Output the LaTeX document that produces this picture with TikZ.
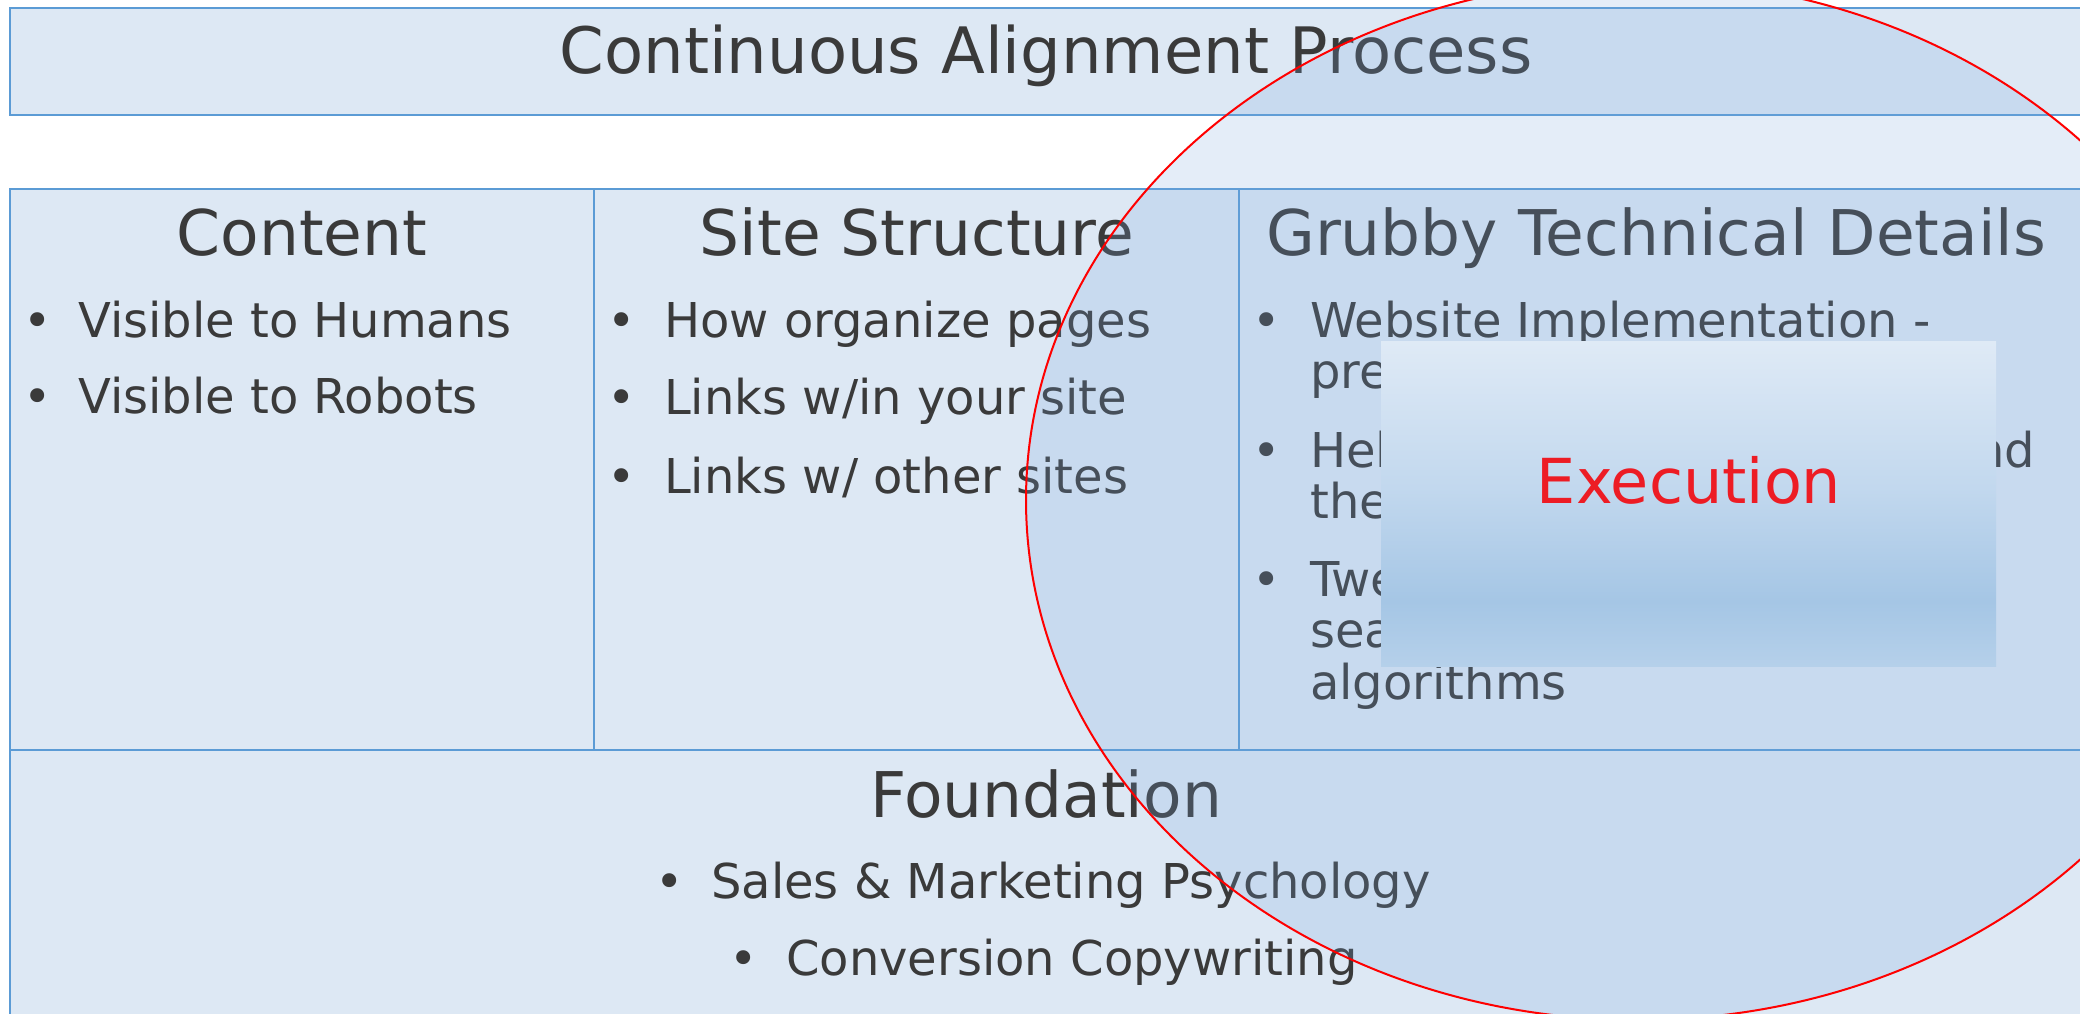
\documentclass[tikz,border=0pt]{standalone}
\usepackage{fontspec}
\setmainfont{DejaVu Sans}

\definecolor{cellfill}{HTML}{DDE8F4}
\definecolor{cellline}{HTML}{5B9BD5}
\definecolor{txt}{HTML}{3A3A3A}
\definecolor{lensfill}{RGB}{120,165,220}
\definecolor{exT}{HTML}{DFEAF6}
\definecolor{exM}{HTML}{C2D8EE}
\definecolor{exD}{HTML}{A5C6E5}
\definecolor{exB}{HTML}{B5D0EA}
\definecolor{exred}{HTML}{ED1C24}

% light-to-dark band used for the "Execution" panel (bottom = 25bp, top = 75bp)
\pgfdeclareverticalshading{execshade}{100bp}{color(0bp)=(exB); color(25bp)=(exB); color(35bp)=(exD); color(52.5bp)=(exM); color(75bp)=(exT); color(100bp)=(exT)}

\tikzset{
  frame/.style={fill=cellfill, draw=cellline, line width=2pt},
  titletext/.style={font=\fontsize{64}{77}\selectfont, text=txt, anchor=base, inner sep=0pt},
  head/.style={font=\fontsize{63}{76}\selectfont, text=txt, anchor=base, inner sep=0pt},
  itm/.style={font=\fontsize{48}{51.5}\selectfont, text=txt, anchor=base west, inner sep=0pt},
  bul/.style={font=\fontsize{48}{51.5}\selectfont, text=txt, anchor=base, inner sep=0pt},
  lens/.style={fill=lensfill, fill opacity=0.2, draw=red, draw opacity=1, line width=2pt},
  execpanel/.style={shade, shading=execshade, draw=none, inner sep=0pt,
                    minimum width=615pt, minimum height=325pt},
  execlabel/.style={font=\fontsize{62}{74}\selectfont, text=exred, anchor=base, inner sep=0pt}
}

\begin{document}
\begin{tikzpicture}[x=1pt, y=-1pt]
\useasboundingbox (0,0) rectangle (2080,1014);
\clip (0,0) rectangle (2080,1014);
\fill[white] (0,0) rectangle (2080,1014);

% banner
\draw[frame] (10,8) rectangle (2082,115);
\node[titletext] (title) at (1046,74) {Continuous Alignment Process};

% three columns
\draw[frame] (10,189) rectangle (594,750);
\draw[frame] (594,189) rectangle (1239,750);
\draw[frame] (1239,189) rectangle (2082,750);

\node[head] (hContent) at (302,255) {Content};
\node[bul] (b11) at (38,337) {•};
\node[itm] (c1) at (78,337) {Visible to Humans};
\node[bul] (b12) at (38,413) {•};
\node[itm] (c2) at (78,413) {Visible to Robots};

\node[head] (hSite) at (917,255) {Site Structure};
\node[bul] (b21) at (622,337) {•};
\node[itm] (s1) at (664,337) {How organize pages};
\node[bul] (b22) at (622,414) {•};
\node[itm] (s2) at (664,414) {Links w/in your site};
\node[bul] (b23) at (622,493) {•};
\node[itm] (s3) at (664,493) {Links w/ other sites};

\node[head] (hGrubby) at (1656,255) {Grubby Technical Details};
\node[bul] (b31) at (1267,337) {•};
\node[itm] (g1) at (1310,337) {\parbox[t]{770pt}{\raggedright Website Implementation -\\presentation \& markup}};
\node[bul] (b32) at (1267,467) {•};
\node[itm] (g2) at (1310,467) {\parbox[t]{770pt}{\raggedright Helps search engines find and\\the site}};
\node[bul] (b33) at (1267,596) {•};
\node[itm] (g3) at (1310,596) {\parbox[t]{770pt}{\raggedright Tweaking for the changing\\search engine ranking\\algorithms}};

% base row
\draw[frame] (10,750) rectangle (2082,1030);
\node[head] (hFound) at (1046,817) {Foundation};
\node[bul] (b41) at (670,898) {•};
\node[itm] (f1) at (711,898) {Sales \& Marketing Psychology};
\node[bul] (b42) at (744,975) {•};
\node[itm] (f2) at (786,975) {Conversion Copywriting};

% translucent highlight with red outline
\draw[lens] (1638,500) ellipse [x radius=612, y radius=520];

% execution panel on top
\node[execpanel] (execbox) at (1688.5,503.5) {};
\node[execlabel] (execlbl) at (1689,503) {Execution};
\end{tikzpicture}
\end{document}
